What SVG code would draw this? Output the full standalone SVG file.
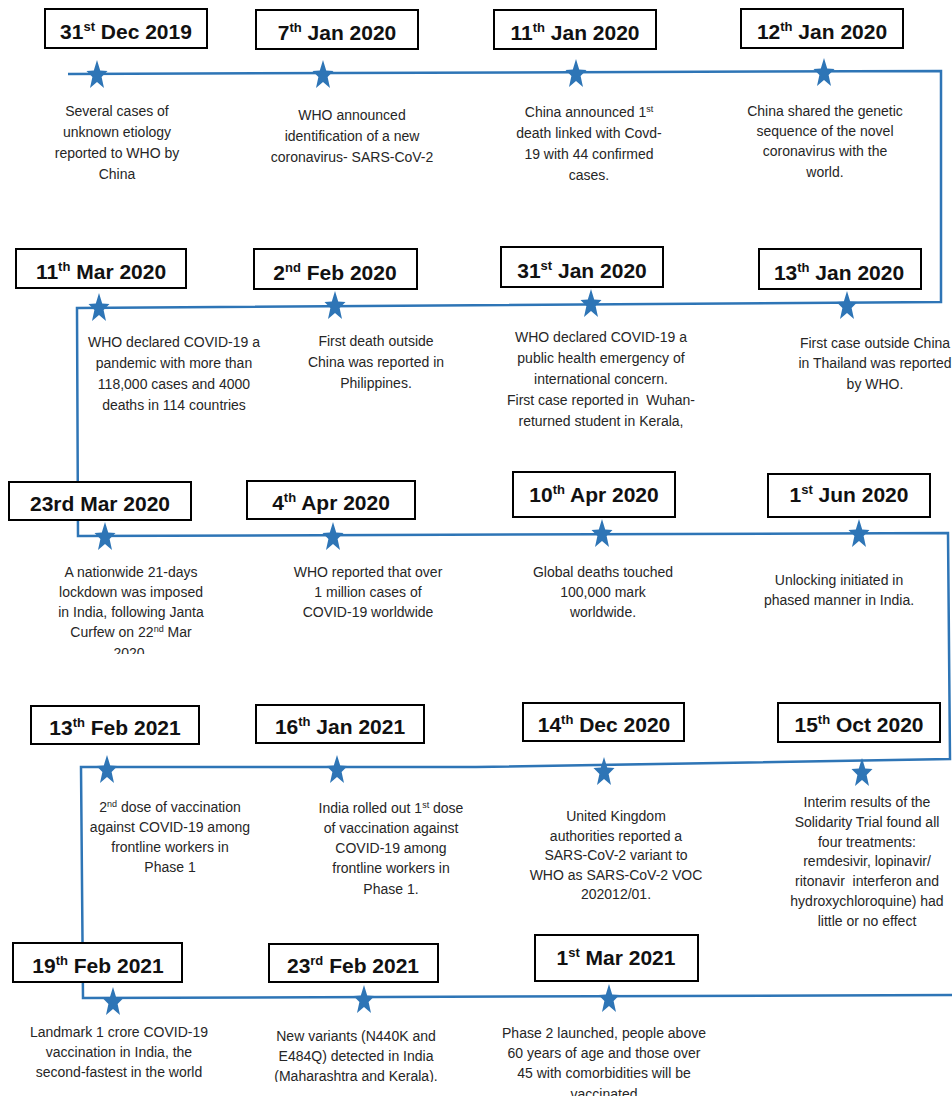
<svg xmlns="http://www.w3.org/2000/svg" xmlns:xlink="http://www.w3.org/1999/xlink" width="952" height="1100" viewBox="0 0 952 1100">
<style>
.box{fill:#fff;stroke:#000;stroke-width:2}
.date{font-family:"Liberation Sans",Arial,sans-serif;font-weight:bold;font-size:21px;fill:#111;text-anchor:middle}
.sup{font-size:13px}
.desc{font-family:"Liberation Sans",Arial,sans-serif;font-size:14px;fill:#262626;text-anchor:middle}
.dsup{font-size:9px}
.line{fill:none;stroke:#2E75B6;stroke-width:2.5;stroke-linejoin:miter}
.star{fill:#2E75B6}
</style>
<defs>
<path id="star" d="M0,-13 L3.2,-2.6 L10.5,-2 L4.6,4 L7,15 L0,9 L-7,15 L-4.6,4 L-10.5,-2 L-3.2,-2.6 Z"/>
<clipPath id="c9"><rect x="0" y="0" width="952" height="654"/></clipPath>
<clipPath id="c18"><rect x="0" y="0" width="952" height="1082"/></clipPath>
<clipPath id="c19"><rect x="0" y="0" width="952" height="1096"/></clipPath>
</defs>
<rect x="0" y="0" width="952" height="1100" fill="#fff"/>

<g id="connectors">
<path class="line" d="M68,74 L941,71 L941,302 L77,308 L78,536 L948,533 L950,759 L476,767 L81,767 L83,998 L952,995"/>
</g>

<g id="n1">
<rect class="box" x="45" y="9" width="162" height="39"/>
<text class="date" x="126" y="39">31<tspan class="sup" dy="-8">st</tspan><tspan dy="8"> Dec 2019</tspan></text>
<use href="#star" class="star" x="97" y="73"/>
<text class="desc" x="117" y="116">Several cases of</text>
<text class="desc" x="117" y="137">unknown etiology</text>
<text class="desc" x="117" y="158">reported to WHO by</text>
<text class="desc" x="117" y="179">China</text>
</g>

<g id="n2">
<rect class="box" x="256" y="10" width="162" height="39"/>
<text class="date" x="337" y="40">7<tspan class="sup" dy="-8">th</tspan><tspan dy="8"> Jan 2020</tspan></text>
<use href="#star" class="star" x="323" y="73"/>
<text class="desc" x="352" y="120">WHO announced</text>
<text class="desc" x="352" y="141">identification of a new</text>
<text class="desc" x="352" y="162">coronavirus- SARS-CoV-2</text>
</g>

<g id="n3">
<rect class="box" x="494" y="10" width="162" height="39"/>
<text class="date" x="575" y="40">11<tspan class="sup" dy="-8">th</tspan><tspan dy="8"> Jan 2020</tspan></text>
<use href="#star" class="star" x="576" y="72"/>
<text class="desc" x="589" y="117">China announced 1<tspan class="dsup" dy="-5">st</tspan></text>
<text class="desc" x="589" y="138">death linked with Covd-</text>
<text class="desc" x="589" y="159">19 with 44 confirmed</text>
<text class="desc" x="589" y="180">cases.</text>
</g>

<g id="n4">
<rect class="box" x="741" y="9" width="162" height="39"/>
<text class="date" x="822" y="39">12<tspan class="sup" dy="-8">th</tspan><tspan dy="8"> Jan 2020</tspan></text>
<use href="#star" class="star" x="824" y="71"/>
<text class="desc" x="825" y="116">China shared the genetic</text>
<text class="desc" x="825" y="136">sequence of the novel</text>
<text class="desc" x="825" y="156">coronavirus with the</text>
<text class="desc" x="825" y="177">world.</text>
</g>

<g id="n5">
<rect class="box" x="16" y="249" width="170" height="39"/>
<text class="date" x="101" y="279">11<tspan class="sup" dy="-8">th</tspan><tspan dy="8"> Mar 2020</tspan></text>
<use href="#star" class="star" x="99" y="306"/>
<text class="desc" x="174" y="347">WHO declared COVID-19 a</text>
<text class="desc" x="174" y="368">pandemic with more than</text>
<text class="desc" x="174" y="389">118,000 cases and 4000</text>
<text class="desc" x="174" y="410">deaths in 114 countries</text>
</g>

<g id="n6">
<rect class="box" x="254" y="249" width="163" height="40"/>
<text class="date" x="335" y="280">2<tspan class="sup" dy="-8">nd</tspan><tspan dy="8"> Feb 2020</tspan></text>
<use href="#star" class="star" x="335" y="304"/>
<text class="desc" x="376" y="346">First death outside</text>
<text class="desc" x="376" y="367">China was reported in</text>
<text class="desc" x="376" y="388">Philippines.</text>
</g>

<g id="n7">
<rect class="box" x="501" y="247" width="162" height="40"/>
<text class="date" x="582" y="278">31<tspan class="sup" dy="-8">st</tspan><tspan dy="8"> Jan 2020</tspan></text>
<use href="#star" class="star" x="591" y="302"/>
<text class="desc" x="601" y="342">WHO declared COVID-19 a</text>
<text class="desc" x="601" y="363">public health emergency of</text>
<text class="desc" x="601" y="384">international concern.</text>
<text class="desc" x="601" y="405" xml:space="preserve">First case reported in  Wuhan-</text>
<text class="desc" x="601" y="426">returned student in Kerala,</text>
</g>

<g id="n8">
<rect class="box" x="759" y="249" width="162" height="40"/>
<text class="date" x="839" y="280">13<tspan class="sup" dy="-8">th</tspan><tspan dy="8"> Jan 2020</tspan></text>
<use href="#star" class="star" x="847" y="304"/>
<text class="desc" x="875" y="348">First case outside China</text>
<text class="desc" x="875" y="368">in Thailand was reported</text>
<text class="desc" x="875" y="389">by WHO.</text>
</g>

<g id="n9">
<rect class="box" x="9" y="482" width="182" height="38"/>
<text class="date" x="100" y="511">23rd Mar 2020</text>
<use href="#star" class="star" x="105" y="535"/>
<text class="desc" x="131" y="577">A nationwide 21-days</text>
<text class="desc" x="131" y="597">lockdown was imposed</text>
<text class="desc" x="131" y="617">in India, following Janta</text>
<text class="desc" x="131" y="637">Curfew on 22<tspan class="dsup" dy="-5">nd</tspan><tspan dy="5"> Mar</tspan></text>
<text class="desc" x="131" y="658" clip-path="url(#c9)">2020.</text>
</g>

<g id="n10">
<rect class="box" x="247" y="481" width="168" height="38"/>
<text class="date" x="331" y="510">4<tspan class="sup" dy="-8">th</tspan><tspan dy="8"> Apr 2020</tspan></text>
<use href="#star" class="star" x="333" y="535"/>
<text class="desc" x="368" y="577">WHO reported that over</text>
<text class="desc" x="368" y="597">1 million cases of</text>
<text class="desc" x="368" y="617">COVID-19 worldwide</text>
</g>

<g id="n11">
<rect class="box" x="513" y="472" width="162" height="45"/>
<text class="date" x="594" y="502">10<tspan class="sup" dy="-8">th</tspan><tspan dy="8"> Apr 2020</tspan></text>
<use href="#star" class="star" x="602" y="532"/>
<text class="desc" x="603" y="577">Global deaths touched</text>
<text class="desc" x="603" y="597">100,000 mark</text>
<text class="desc" x="603" y="617">worldwide.</text>
</g>

<g id="n12">
<rect class="box" x="768" y="474" width="162" height="43"/>
<text class="date" x="849" y="502">1<tspan class="sup" dy="-8">st</tspan><tspan dy="8"> Jun 2020</tspan></text>
<use href="#star" class="star" x="859" y="532"/>
<text class="desc" x="839" y="585">Unlocking initiated in</text>
<text class="desc" x="839" y="605">phased manner in India.</text>
</g>

<g id="n13">
<rect class="box" x="31" y="706" width="168" height="38"/>
<text class="date" x="115" y="735">13<tspan class="sup" dy="-8">th</tspan><tspan dy="8"> Feb 2021</tspan></text>
<use href="#star" class="star" x="107" y="768"/>
<text class="desc" x="170" y="812">2<tspan class="dsup" dy="-5">nd</tspan><tspan dy="5"> dose of vaccination</tspan></text>
<text class="desc" x="170" y="832">against COVID-19 among</text>
<text class="desc" x="170" y="852">frontline workers in</text>
<text class="desc" x="170" y="872">Phase 1</text>
</g>

<g id="n14">
<rect class="box" x="256" y="705" width="168" height="38"/>
<text class="date" x="340" y="734">16<tspan class="sup" dy="-8">th</tspan><tspan dy="8"> Jan 2021</tspan></text>
<use href="#star" class="star" x="337" y="768"/>
<text class="desc" x="391" y="813">India rolled out 1<tspan class="dsup" dy="-5">st</tspan><tspan dy="5"> dose</tspan></text>
<text class="desc" x="391" y="833">of vaccination against</text>
<text class="desc" x="391" y="853">COVID-19 among</text>
<text class="desc" x="391" y="873">frontline workers in</text>
<text class="desc" x="391" y="894">Phase 1.</text>
</g>

<g id="n15">
<rect class="box" x="523" y="703" width="161" height="38"/>
<text class="date" x="604" y="732">14<tspan class="sup" dy="-8">th</tspan><tspan dy="8"> Dec 2020</tspan></text>
<use href="#star" class="star" x="604" y="770"/>
<text class="desc" x="616" y="821">United Kingdom</text>
<text class="desc" x="616" y="841">authorities reported a</text>
<text class="desc" x="616" y="860">SARS-CoV-2 variant to</text>
<text class="desc" x="616" y="880">WHO as SARS-CoV-2 VOC</text>
<text class="desc" x="616" y="899">202012/01.</text>
</g>

<g id="n16">
<rect class="box" x="778" y="703" width="162" height="39"/>
<text class="date" x="859" y="732">15<tspan class="sup" dy="-8">th</tspan><tspan dy="8"> Oct 2020</tspan></text>
<use href="#star" class="star" x="862" y="771"/>
<text class="desc" x="867" y="807">Interim results of the</text>
<text class="desc" x="867" y="827">Solidarity Trial found all</text>
<text class="desc" x="867" y="847">four treatments:</text>
<text class="desc" x="867" y="866">remdesivir, lopinavir/</text>
<text class="desc" x="867" y="886" xml:space="preserve">ritonavir  interferon and</text>
<text class="desc" x="867" y="906">hydroxychloroquine) had</text>
<text class="desc" x="867" y="926">little or no effect</text>
</g>

<g id="n17">
<rect class="box" x="13" y="943" width="169" height="39"/>
<text class="date" x="98" y="973">19<tspan class="sup" dy="-8">th</tspan><tspan dy="8"> Feb 2021</tspan></text>
<use href="#star" class="star" x="113" y="1000"/>
<text class="desc" x="119" y="1037">Landmark 1 crore COVID-19</text>
<text class="desc" x="119" y="1057">vaccination in India, the</text>
<text class="desc" x="119" y="1077">second-fastest in the world</text>
</g>

<g id="n18">
<rect class="box" x="269" y="944" width="169" height="38"/>
<text class="date" x="353" y="973">23<tspan class="sup" dy="-8">rd</tspan><tspan dy="8"> Feb 2021</tspan></text>
<use href="#star" class="star" x="364" y="998"/>
<text class="desc" x="356" y="1041">New variants (N440K and</text>
<text class="desc" x="356" y="1061">E484Q) detected in India</text>
<text class="desc" x="356" y="1081" clip-path="url(#c18)">(Maharashtra and Kerala).</text>
</g>

<g id="n19">
<rect class="box" x="535" y="935" width="163" height="46"/>
<text class="date" x="616" y="965">1<tspan class="sup" dy="-8">st</tspan><tspan dy="8"> Mar 2021</tspan></text>
<use href="#star" class="star" x="609" y="997"/>
<text class="desc" x="604" y="1038">Phase 2 launched, people above</text>
<text class="desc" x="604" y="1058">60 years of age and those over</text>
<text class="desc" x="604" y="1078">45 with comorbidities will be</text>
<text class="desc" x="604" y="1099" clip-path="url(#c19)">vaccinated</text>
</g>
</svg>
